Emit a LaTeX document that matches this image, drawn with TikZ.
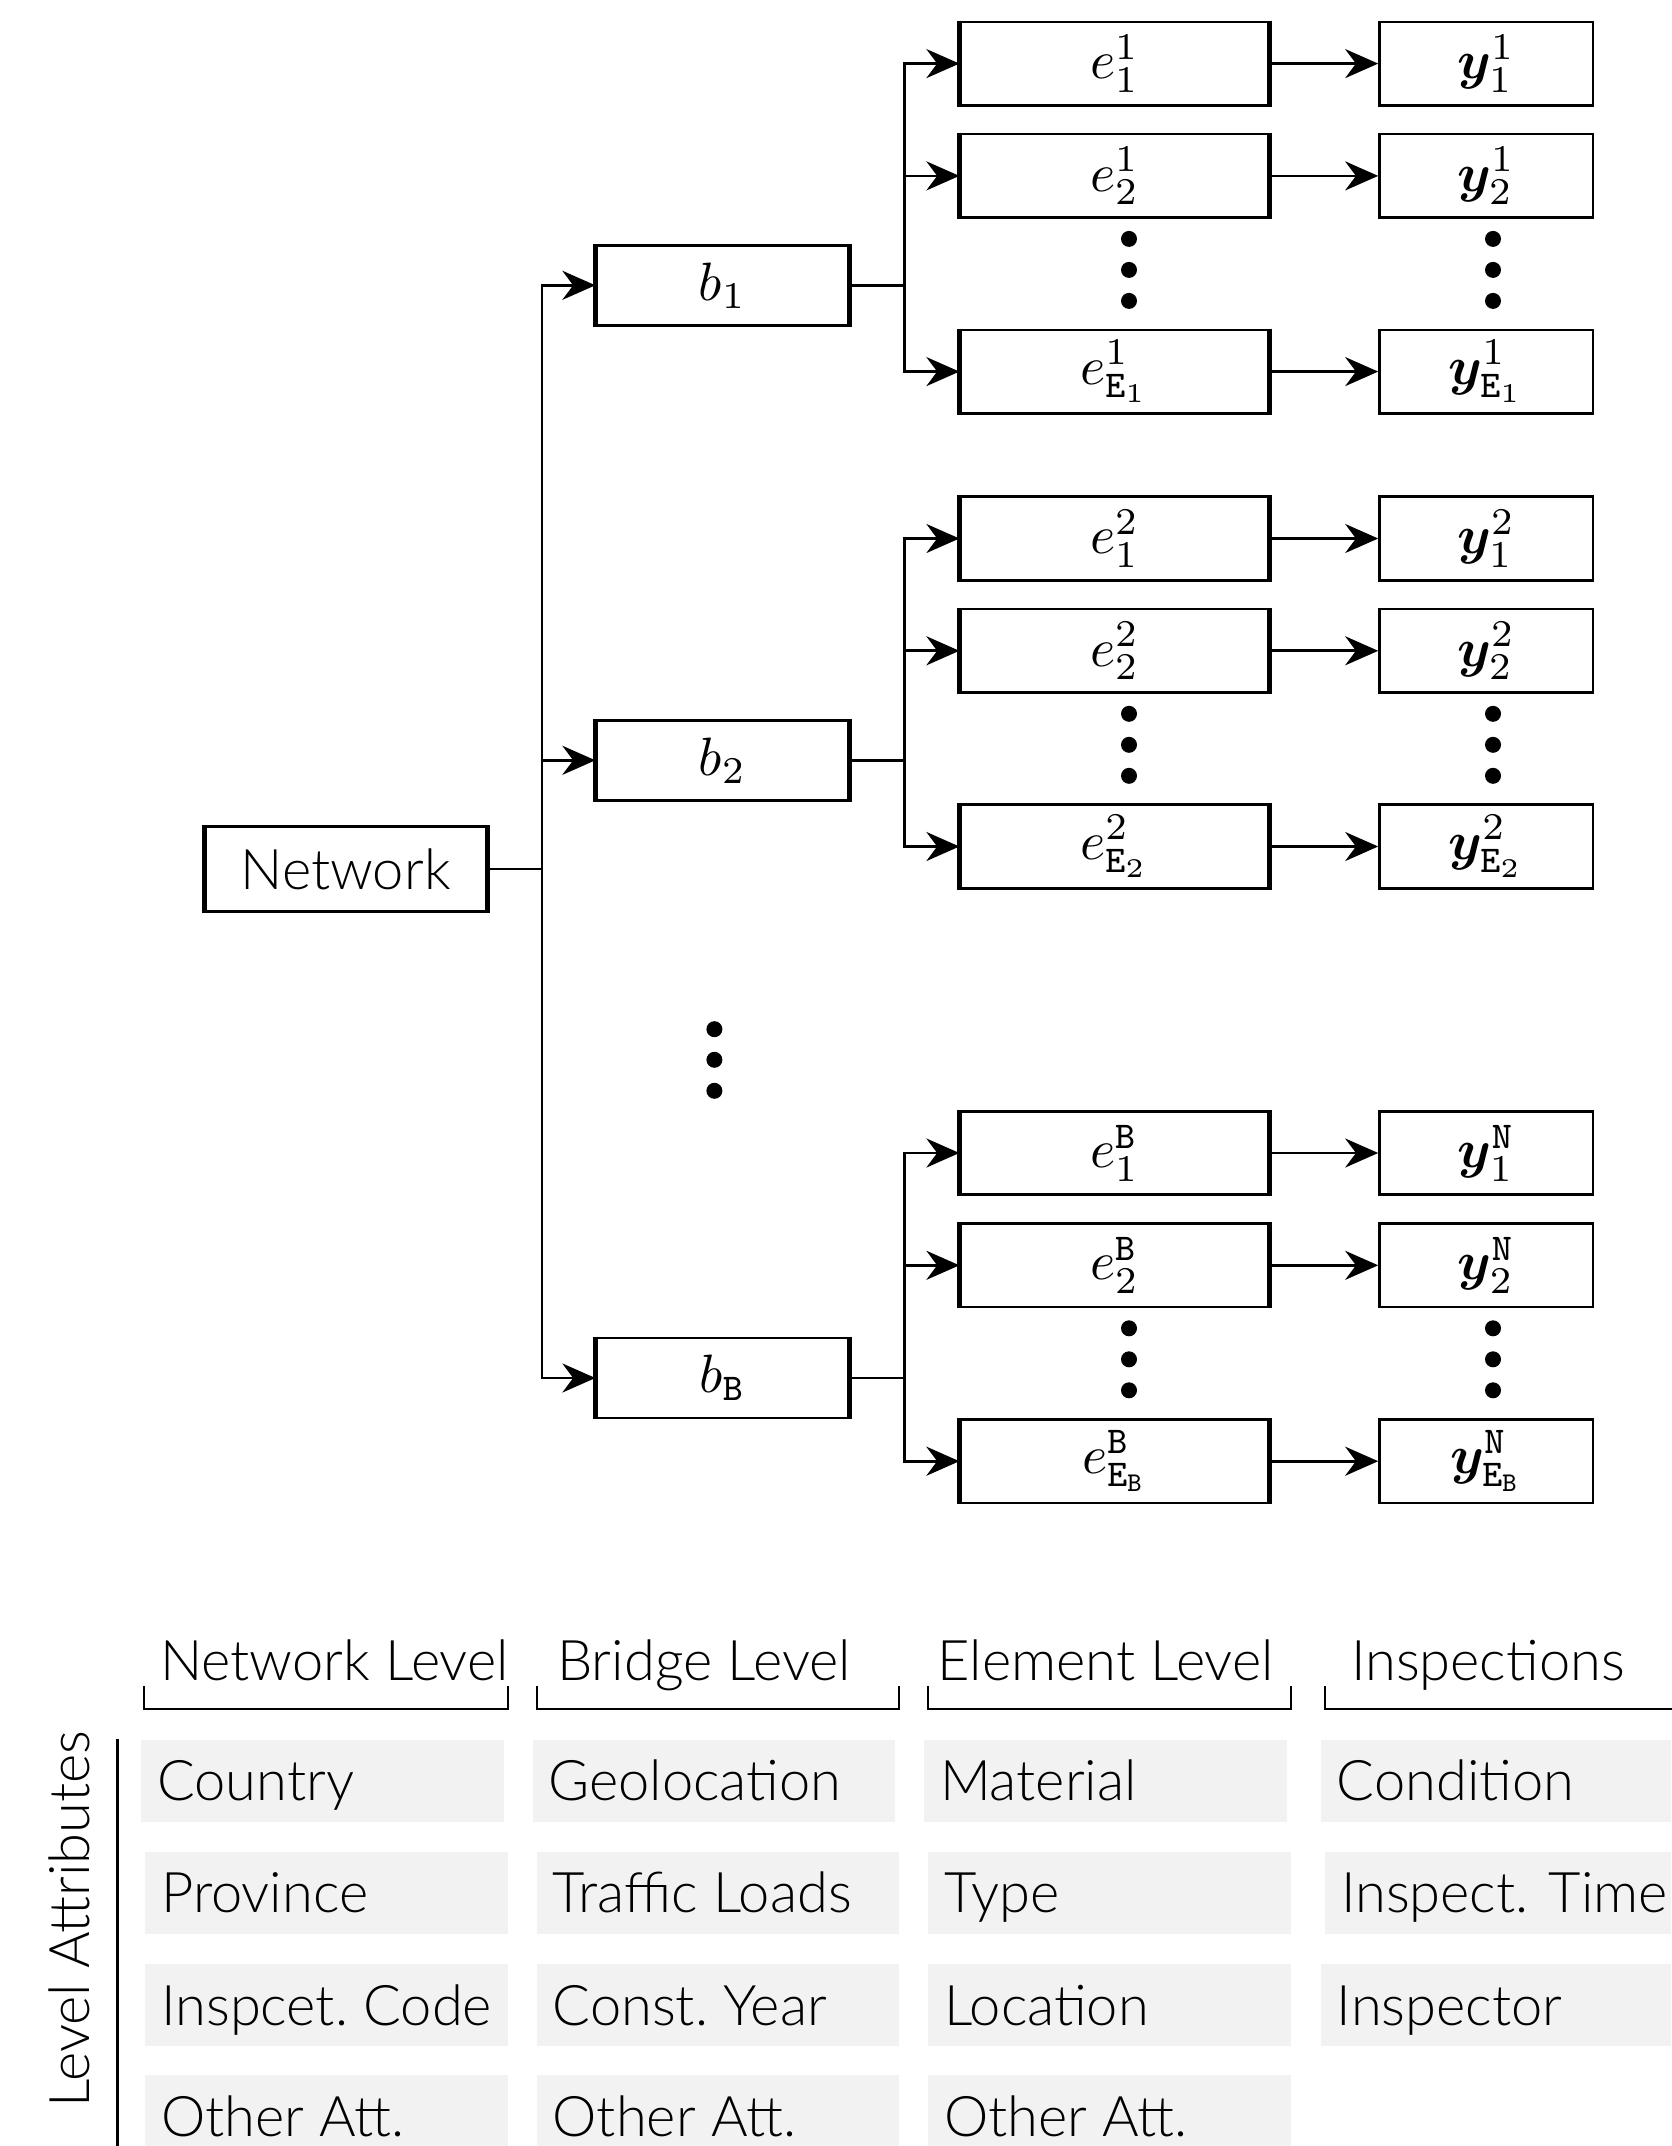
\documentclass[tikz,border=0pt]{standalone}
\usepackage[no-math]{fontspec}
\usepackage{bm}
\usetikzlibrary{arrows.meta}
\newfontfamily\lato{Lato Light}
\definecolor{cellgray}{RGB}{242,242,242}
\newcommand{\mth}[1]{\scalebox{5.4}{$#1$}}
\tikzset{
  box/.style={draw, line width=2.6pt, inner sep=0pt, minimum height=83.5pt},
  ebox/.style={box, minimum width=308pt},
  ybox/.style={box, minimum width=213.6pt},
  bbox/.style={box, minimum width=251.8pt, minimum height=80pt},
  netbox/.style={box, minimum width=280.6pt, minimum height=85pt, font=\lato\fontsize{56}{62}\selectfont},
  side/.style={line width=4.6pt},
  conn/.style={line width=2.7pt},
  arr/.style={conn, -{Stealth[length=33pt,width=29pt]}},
  vdot/.style={circle, fill, inner sep=0pt, minimum size=16pt},
  hdr/.style={anchor=base west, inner sep=0pt, font=\lato\fontsize{56}{62}\selectfont},
  brk/.style={line width=2pt},
  cell/.style={fill=cellgray, anchor=north west, inner sep=0pt, minimum height=82pt},
  celltext/.style={anchor=west, inner sep=0pt, xshift=16pt, text height=40pt, text depth=0pt, font=\lato\fontsize{56}{62}\selectfont},
}
\begin{document}
\begin{tikzpicture}[x=1pt,y=-1pt]
\useasboundingbox (0,0) rectangle (1671,2146);

% network and bridges
\node[netbox] (net) at (345.6,869) {Network\hspace{28pt}};
\node[bbox] (b1) at (722.6,285.3) {\mth{b_1}};
\node[bbox] (b2) at (722.6,760.3) {\mth{b_2}};
\node[bbox] (bB) at (722.6,1378) {\mth{b_{\mathtt{B}}}};
\coordinate (trunk) at (542,869);
\draw[conn] (net.east) -- (trunk);
\draw[arr] (trunk) |- (b1);
\draw[arr] (trunk) |- (b2);
\draw[arr] (trunk) |- (bB);

% middle dots
\node[vdot] (md1) at (714.4,1029.2) {};
\node[vdot] (md2) at (714.4,1059.8) {};
\node[vdot] (md3) at (714.4,1090.8) {};

% group 1
\node[ebox] (e11) at (1114.7,63.6) {\mth{e^{1}_{1}}};
\node[ebox] (e12) at (1114.7,175.9) {\mth{e^{1}_{2}}};
\node[ebox] (e1E) at (1114.7,371.6) {\mth{e^{1}_{\mathtt{E}_1}}};
\node[ybox] (y11) at (1486.3,63.6) {\mth{\bm{y}^{1}_{1}}};
\node[ybox] (y12) at (1486.3,175.9) {\mth{\bm{y}^{1}_{2}}};
\node[ybox] (y1E) at (1486.3,371.6) {\mth{\bm{y}^{1}_{\mathtt{E}_1}}};
\coordinate (br1) at (904.6,285.3);
\draw[conn] (b1.east) -- (br1);
\draw[arr] (br1) |- (e11);
\draw[arr] (br1) |- (e12);
\draw[arr] (br1) |- (e1E);
\draw[arr] (e11) -- (y11);
\draw[arr] (e12) -- (y12);
\draw[arr] (e1E) -- (y1E);
\node[vdot] (d1a) at (1129,238.9) {};
\node[vdot] (d1b) at (1129,269.9) {};
\node[vdot] (d1c) at (1129,300.9) {};
\node[vdot] (f1a) at (1493,238.9) {};
\node[vdot] (f1b) at (1493,269.9) {};
\node[vdot] (f1c) at (1493,300.9) {};

% group 2
\node[ebox] (e21) at (1114.7,538.5) {\mth{e^{2}_{1}}};
\node[ebox] (e22) at (1114.7,650.8) {\mth{e^{2}_{2}}};
\node[ebox] (e2E) at (1114.7,846.5) {\mth{e^{2}_{\mathtt{E}_2}}};
\node[ybox] (y21) at (1486.3,538.5) {\mth{\bm{y}^{2}_{1}}};
\node[ybox] (y22) at (1486.3,650.8) {\mth{\bm{y}^{2}_{2}}};
\node[ybox] (y2E) at (1486.3,846.5) {\mth{\bm{y}^{2}_{\mathtt{E}_2}}};
\coordinate (br2) at (904.6,760.3);
\draw[conn] (b2.east) -- (br2);
\draw[arr] (br2) |- (e21);
\draw[arr] (br2) |- (e22);
\draw[arr] (br2) |- (e2E);
\draw[arr] (e21) -- (y21);
\draw[arr] (e22) -- (y22);
\draw[arr] (e2E) -- (y2E);
\node[vdot] (d2a) at (1129,713.8) {};
\node[vdot] (d2b) at (1129,744.8) {};
\node[vdot] (d2c) at (1129,775.8) {};
\node[vdot] (f2a) at (1493,713.8) {};
\node[vdot] (f2b) at (1493,744.8) {};
\node[vdot] (f2c) at (1493,775.8) {};

% group B
\node[ebox] (eB1) at (1114.7,1153.0) {\mth{e^{\mathtt{B}}_{1}}};
\node[ebox] (eB2) at (1114.7,1265.3) {\mth{e^{\mathtt{B}}_{2}}};
\node[ebox] (eBE) at (1114.7,1461.2) {\mth{e^{\mathtt{B}}_{\mathtt{E}_{\mathtt{B}}}}};
\node[ybox] (yB1) at (1486.3,1153.0) {\mth{\bm{y}^{\mathtt{N}}_{1}}};
\node[ybox] (yB2) at (1486.3,1265.3) {\mth{\bm{y}^{\mathtt{N}}_{2}}};
\node[ybox] (yBE) at (1486.3,1461.2) {\mth{\bm{y}^{\mathtt{N}}_{\mathtt{E}_{\mathtt{B}}}}};
\coordinate (brB) at (904.6,1378);
\draw[conn] (bB.east) -- (brB);
\draw[arr] (brB) |- (eB1);
\draw[arr] (brB) |- (eB2);
\draw[arr] (brB) |- (eBE);
\draw[arr] (eB1) -- (yB1);
\draw[arr] (eB2) -- (yB2);
\draw[arr] (eBE) -- (yBE);
\node[vdot] (dBa) at (1129,1328.3) {};
\node[vdot] (dBb) at (1129,1359.3) {};
\node[vdot] (dBc) at (1129,1390.3) {};
\node[vdot] (fBa) at (1493,1328.3) {};
\node[vdot] (fBb) at (1493,1359.3) {};
\node[vdot] (fBc) at (1493,1390.3) {};

% heavier vertical sides of the boxes
\foreach \n in {net,b1,b2,bB,e11,e12,e1E,e21,e22,e2E,eB1,eB2,eBE}
  \draw[side] (\n.north west) -- (\n.south west) (\n.north east) -- (\n.south east);

% headers
\node[hdr] (h1) at (160,1680.6) {Network Level};
\node[hdr] (h2) at (557,1680.6) {Bridge Level};
\node[hdr] (h3) at (937.5,1680.6) {Element Level};
\node[hdr] (h4) at (1350.8,1680.6) {Inspections};
\draw[brk] (143.7,1686) -- (143.7,1709.4) -- (507.8,1709.4) -- (507.8,1686);
\draw[brk] (536.5,1686) -- (536.5,1709.4) -- (899.2,1709.4) -- (899.2,1686);
\draw[brk] (927.9,1686) -- (927.9,1709.4) -- (1290.6,1709.4) -- (1290.6,1686);
\draw[brk] (1324.8,1686) -- (1324.8,1709.4) -- (1680,1709.4);

% side label
\draw[line width=2.5pt] (117.7,1739) -- (117.7,2150);
\node[rotate=90, anchor=base, inner sep=0pt, font=\lato\fontsize{56}{62}\selectfont] (lvl) at (89,1919) {Level Attributes};

% row 1
\node[cell, minimum width=362.6pt] (c11) at (141,1739.5) {};
\node[cell, minimum width=362.6pt] (c12) at (532.4,1739.5) {};
\node[cell, minimum width=362.7pt] (c13) at (923.8,1739.5) {};
\node[cell, minimum width=350.3pt] (c14) at (1320.7,1739.5) {};
\node[celltext] (t11) at (c11.west) {Country};
\node[celltext] (t12) at (c12.west) {Geolocation};
\node[celltext] (t13) at (c13.west) {Material};
\node[celltext] (t14) at (c14.west) {Condition};
% row 2
\node[cell, minimum width=362.8pt] (c21) at (145,1851.7) {};
\node[cell, minimum width=362.7pt] (c22) at (536.5,1851.7) {};
\node[cell, minimum width=362.6pt] (c23) at (928,1851.7) {};
\node[cell, minimum width=346.2pt] (c24) at (1324.8,1851.7) {};
\node[celltext] (t21) at (c21.west) {Province};
\node[celltext] (t22) at (c22.west) {Traffic Loads};
\node[celltext] (t23) at (c23.west) {Type};
\node[celltext] (t24) at (c24.west) {Inspect. Time};
% row 3
\node[cell, minimum width=362.8pt] (c31) at (145,1964) {};
\node[cell, minimum width=362.7pt] (c32) at (536.5,1964) {};
\node[cell, minimum width=362.6pt] (c33) at (928,1964) {};
\node[cell, minimum width=350.3pt] (c34) at (1320.7,1964) {};
\node[celltext] (t31) at (c31.west) {Inspcet.\ Code};
\node[celltext] (t32) at (c32.west) {Const.\ Year};
\node[celltext] (t33) at (c33.west) {Location};
\node[celltext] (t34) at (c34.west) {Inspector};
% row 4
\node[cell, minimum width=362.8pt] (c41) at (145,2074.8) {};
\node[cell, minimum width=362.7pt] (c42) at (536.5,2074.8) {};
\node[cell, minimum width=362.6pt] (c43) at (928,2074.8) {};
\node[celltext] (t41) at (c41.west) {Other Att.};
\node[celltext] (t42) at (c42.west) {Other Att.};
\node[celltext] (t43) at (c43.west) {Other Att.};
\end{tikzpicture}
\end{document}
